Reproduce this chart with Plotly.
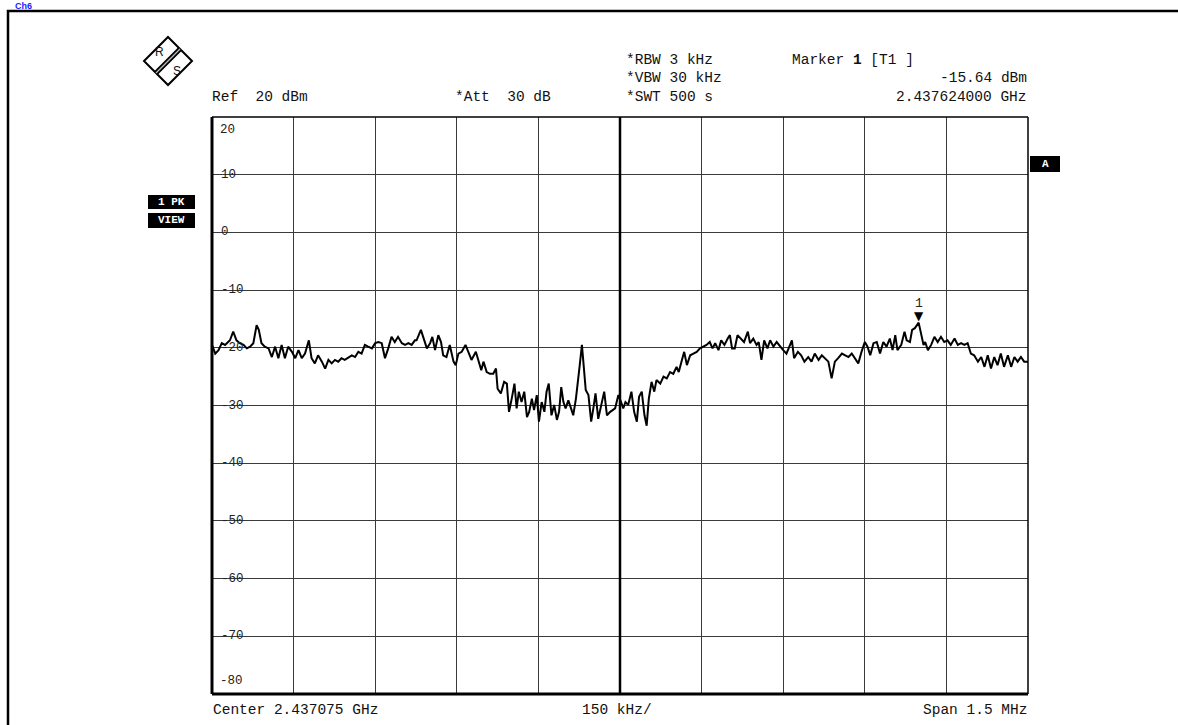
import plotly.graph_objects as go

# ---------------- data ----------------
center_ghz = 2.437075
span_mhz = 1.5
# frequency offset from centre (kHz) and measured level (dBm)
freq_offset_khz = [
    -750, -744, -738, -732, -726, -717, -711, -705, -699, -692, -686, -680, -674, -668, -664, -659,
    -653, -646, -640, -634, -628, -622, -616, -610, -603, -597, -591, -585, -579, -572, -567, -561,
    -555, -548, -542, -536, -530, -524, -518, -512, -506, -499, -493, -487, -481, -475, -469, -463,
    -456, -450, -444, -438, -432, -426, -420, -414, -408, -401, -395, -389, -383, -377,
    -374, -366, -362, -355, -349, -345, -340, -334, -329, -325, -319, -313, -306, -302, -297, -291,
    -284, -278, -273, -265, -260, -255, -251, -245, -239, -233, -228, -225, -219, -213, -208, -204,
    -199, -194, -190, -186, -181, -176, -171, -167, -162, -158, -153, -149, -144, -139, -135, -131,
    -126, -121, -116, -112, -108, -104, -100, -95, -90, -86, -81, -78, -74, -70, -67, -63,
    -58, -53, -49, -45, -40, -34, -29, -24, -18,
    -9, -3, 2, 6, 10, 15, 21, 26, 31, 35, 40, 45, 49, 53, 58, 63,
    67, 74, 80, 86, 92, 98, 104, 108, 113, 118, 123, 129, 135, 141, 147, 153,
    159, 165, 170, 175, 181, 186, 192, 198, 202, 206, 211, 216, 222, 228, 235, 239,
    245, 251, 255, 260, 265, 271, 276, 282, 288, 294, 300, 306, 311, 316, 320, 327,
    333, 339,
    346, 352, 358, 365, 371, 377, 383, 389, 395, 401, 408, 414, 420, 426, 432, 438,
    444, 450, 455, 460, 466, 472, 478, 484, 490, 496, 501, 506, 510, 517, 523, 527,
    533, 537, 542, 549, 554, 558, 561, 566, 572, 578, 584, 590, 596, 602, 608, 615,
    621, 627, 633, 639, 645, 651, 658, 664, 670, 676, 682, 688, 694, 700, 706, 713,
    719, 725, 731, 737, 743, 750,
]
level_dbm = [
    -19.5, -21.0, -20.4, -19.2, -19.5, -18.7, -17.2, -18.7, -19.2, -19.5, -20.1, -19.8, -19.2, -16.1, -16.9, -19.2,
    -19.8, -20.1, -21.6, -19.8, -21.8, -19.5, -21.8, -19.8, -20.7, -21.8, -20.4, -21.8, -21.0, -18.7, -21.8, -22.7,
    -21.3, -22.4, -23.6, -22.1, -22.7, -22.1, -22.4, -21.8, -22.1, -21.6, -21.3, -21.6, -20.7, -21.0, -19.5, -19.8,
    -20.1, -19.2, -19.0, -19.2, -21.8, -20.1, -18.1, -19.0, -18.1, -19.2, -19.5, -19.2, -19.5, -18.7,
    -18.7, -16.9, -18.1, -20.1, -19.2, -18.1, -20.4, -17.8, -19.0, -21.3, -21.6, -19.5, -22.4, -23.0, -21.0, -20.7,
    -19.5, -21.0, -22.1, -20.7, -22.4, -23.9, -22.4, -24.2, -24.5, -24.5, -23.6, -27.1, -27.9, -25.9, -26.2, -31.1,
    -28.8, -26.2, -30.5, -27.6, -29.4, -27.6, -32.0, -31.1, -28.8, -30.8, -28.2, -32.8, -29.4, -31.1, -27.6, -26.2,
    -31.7, -29.9, -32.5, -31.1, -26.8, -29.4, -30.5, -29.1, -30.5, -31.7, -28.8, -25.9, -23.0, -19.5, -22.4, -27.3,
    -28.2, -32.8, -30.5, -27.9, -32.3, -29.9, -27.6, -31.7, -31.1,
    -30.5, -28.2, -29.4, -30.5, -29.4, -29.9, -27.6, -31.1, -32.8, -28.5, -27.6, -31.7, -33.5, -28.8, -25.9, -27.6,
    -25.6, -26.2, -25.0, -25.3, -24.2, -24.5, -23.3, -24.2, -22.4, -20.7, -23.0, -21.3, -21.0, -20.7, -20.1, -19.8,
    -19.5, -19.0, -20.1, -19.2, -20.4, -18.7, -19.5, -18.4, -17.8, -20.1, -20.1, -17.8, -18.4, -19.0, -17.2, -19.2,
    -18.4, -19.5, -19.0, -22.1, -18.7, -20.1, -18.7, -19.8, -19.0, -19.8, -20.4, -21.0, -19.8, -18.7, -21.8, -20.7,
    -21.3, -22.4,
    -21.6, -22.4, -21.0, -22.1, -21.3, -21.8, -22.4, -25.3, -22.4, -21.8, -21.0, -21.3, -21.6, -21.0, -21.8, -22.7,
    -20.7, -19.0, -19.8, -21.3, -19.2, -19.0, -21.0, -19.0, -19.8, -18.4, -20.4, -17.8, -20.4, -19.5, -17.2, -18.7,
    -19.0, -16.9, -16.6, -15.64, -17.8, -19.5, -19.0, -20.4, -19.5, -18.1, -19.0, -18.1, -19.0, -18.7, -19.5, -18.4,
    -19.5, -19.2, -19.5, -19.2, -21.0, -21.3, -22.4, -21.6, -23.3, -21.3, -23.6, -21.6, -23.0, -21.0, -23.3, -21.3,
    -23.3, -21.6, -22.4, -21.6, -22.4, -22.4,
]
marker_offset_khz = 549      # 2.437624000 GHz
marker_level_dbm = -15.64
y_tick_values = [20, 10, 0, -10, -20, -30, -40, -50, -60, -70, -80]
x_grid_step_khz = 150

MONO = "Liberation Mono, DejaVu Sans Mono, monospace"
INK = "#111111"

fig = go.Figure()
fig.add_trace(go.Scatter(
    x=freq_offset_khz, y=level_dbm, mode="lines",
    line=dict(color="black", width=2), hoverinfo="skip", showlegend=False,
))

# page body margin is removed by the post script, so the figure fills the window
W, H = 1178, 725
PL, PT, PW, PH = 212, 117, 816, 577     # plot area in window pixels
L, T = PL, PT
R, B = W - L - PW, H - T - PH


def px(xpix):
    return (xpix - PL) / PW


def py(ypix):
    return 1 - (ypix - PT) / PH


shapes = []
# outer frame of the page
shapes.append(dict(type="rect", xref="paper", yref="paper", x0=px(8), y0=py(740), x1=px(1195), y1=py(11),
                   line=dict(color="black", width=2.5)))
# plot border
shapes.append(dict(type="line", xref="paper", yref="paper", x0=0, x1=0, y0=0, y1=1, line=dict(color="black", width=3)))
shapes.append(dict(type="line", xref="paper", yref="paper", x0=0, x1=1, y0=0, y1=0, line=dict(color="black", width=3)))
shapes.append(dict(type="line", xref="paper", yref="paper", x0=0, x1=1, y0=1, y1=1, line=dict(color="black", width=1.5)))
shapes.append(dict(type="line", xref="paper", yref="paper", x0=1, x1=1, y0=0, y1=1, line=dict(color="black", width=1.5)))
# centre line
shapes.append(dict(type="line", xref="x", yref="paper", x0=0, x1=0, y0=0, y1=1, line=dict(color="black", width=2.5)))

# R&S logo
cx, cy, hs = 168, 61, 24
shapes.append(dict(type="path", xref="paper", yref="paper",
                   path=f"M {px(cx)},{py(cy-hs)} L {px(cx+hs)},{py(cy)} L {px(cx)},{py(cy+hs)} L {px(cx-hs)},{py(cy)} Z",
                   line=dict(color="black", width=2), fillcolor="white"))
shapes.append(dict(type="line", xref="paper", yref="paper", x0=px(cx + 12), y0=py(cy - 12), x1=px(cx - 12), y1=py(cy + 12),
                   line=dict(color="black", width=5)))
shapes.append(dict(type="line", xref="paper", yref="paper", x0=px(cx + 12), y0=py(cy - 12), x1=px(cx - 12), y1=py(cy + 12),
                   line=dict(color="#bbbbbb", width=1.2)))

# black label boxes
for (x0, y0, x1, y1) in [(148, 195, 195, 209), (148, 213, 195, 228), (1030, 156, 1060, 172)]:
    shapes.append(dict(type="rect", xref="paper", yref="paper", x0=px(x0), x1=px(x1), y0=py(y1), y1=py(y0),
                       line=dict(width=0), fillcolor="black"))

ann = []


def text(t, xpix, ypix, anchor="left", size=14.5, color=INK, family=MONO, yanchor="middle"):
    ann.append(dict(text=t, xref="paper", yref="paper", x=px(xpix), y=py(ypix), xanchor=anchor, yanchor=yanchor,
                    showarrow=False, font=dict(family=family, size=size, color=color)))


# channel caption at the very top-left
ann.append(dict(text="<b>Ch6</b>", xref="paper", yref="paper", x=px(14), y=py(0), xanchor="left", yanchor="top",
                showarrow=False, borderpad=0, font=dict(family="Liberation Sans, Arial, sans-serif", size=9, color="#1a1aff")))
text("Ref  20 dBm", 210, 97)
text("*Att  30 dB", 453, 97)
text("*RBW 3 kHz", 624, 60)
text("*VBW 30 kHz", 624, 78)
text("*SWT 500 s", 624, 97)
text("Marker <b>1</b> [T1 ]", 790, 60)
text(f"{marker_level_dbm:.2f} dBm", 1029, 78, anchor="right")
text(f"{center_ghz + marker_offset_khz / 1e6:.9f} GHz", 1029, 97, anchor="right")
text(f"Center {center_ghz:.6f} GHz", 211, 710)
text(f"{x_grid_step_khz} kHz/", 580, 710)
text(f"Span {span_mhz} MHz", 1029, 710, anchor="right")
text("<b>1 PK</b>", 171, 202, anchor="center", size=11, color="white")
text("<b>VIEW</b>", 171, 220, anchor="center", size=11, color="white")
text("<b>A</b>", 1045, 164, anchor="center", size=11, color="white")
text("R", 159, 52, anchor="center", size=12, family="Liberation Sans, Arial")
text("S", 177, 71, anchor="center", size=12, family="Liberation Sans, Arial")

# y labels inside the grid
for v in y_tick_values:
    if v == 20:
        ann.append(dict(text=str(v), xref="paper", yref="y", x=px(218), y=v, xanchor="left", yanchor="top", yshift=-4,
                        showarrow=False, font=dict(family=MONO, size=12.5, color="#222")))
    elif v == -80:
        ann.append(dict(text=str(v), xref="paper", yref="y", x=px(218), y=v, xanchor="left", yanchor="bottom", yshift=4,
                        showarrow=False, font=dict(family=MONO, size=12.5, color="#222")))
    else:
        ann.append(dict(text=str(v), xref="paper", yref="y", x=px(219), y=v, xanchor="left", yanchor="middle",
                        showarrow=False, font=dict(family=MONO, size=12.5, color="#222")))

# marker 1
ann.append(dict(text="▼", x=marker_offset_khz, y=marker_level_dbm, xref="x", yref="y", xanchor="center",
                yanchor="bottom", yshift=-2, showarrow=False, font=dict(size=12, color="black", family="DejaVu Sans")))
ann.append(dict(text="1", x=marker_offset_khz, y=marker_level_dbm, xref="x", yref="y", xanchor="center",
                yanchor="bottom", yshift=10, showarrow=False, font=dict(size=13, color="#222", family=MONO)))

fig.update_layout(
    width=W, height=H, margin=dict(l=L, r=R, t=T, b=B),
    paper_bgcolor="white", plot_bgcolor="white",
    xaxis=dict(range=[-750, 750], dtick=x_grid_step_khz, tick0=-750, showgrid=True, gridcolor="#3a3a3a", gridwidth=1,
               showticklabels=False, ticks="", zeroline=False, showline=False, fixedrange=True),
    yaxis=dict(range=[-80, 20], dtick=10, tick0=-80, showgrid=True, gridcolor="#3a3a3a", gridwidth=1,
               showticklabels=False, ticks="", zeroline=False, showline=False, fixedrange=True),
    shapes=shapes, annotations=ann, showlegend=False,
)

fig.write_html("out.html", config={"displayModeBar": False},
               post_script="document.body.style.margin='0px';document.body.style.overflow='hidden';")
